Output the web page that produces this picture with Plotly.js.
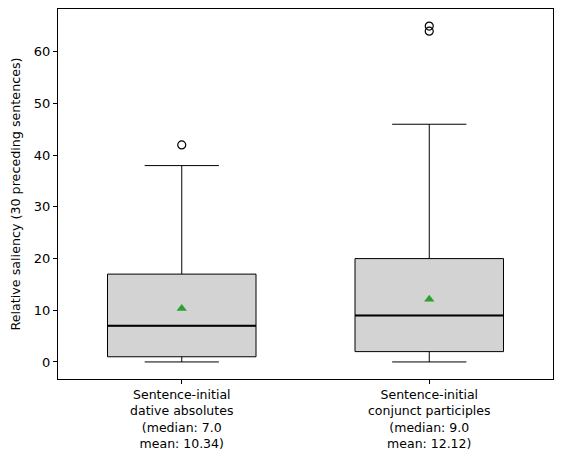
<!DOCTYPE html>
<html>
<head>
<meta charset="utf-8">
<script src="https://cdn.plot.ly/plotly-3.0.1.min.js"></script>
<style>
  body { margin: 0; background: #fff; }
  #chart { width: 562px; height: 461px; }
</style>
</head>
<body>
<div id="chart"></div>
<script>
// box statistics
const positions = [1, 2];
const tickLabels = [
    'Sentence-initial<br>dative absolutes<br>(median: 7.0<br>mean: 10.34)',
    'Sentence-initial<br>conjunct participles<br>(median: 9.0<br>mean: 12.12)'
];
const q1 = [1, 2];
const medians = [7, 9];
const q3 = [17, 20];
const lowerWhisker = [0, 0];
const upperWhisker = [38, 46];
const means = [10.34, 12.12];
const outlierX = [1, 2, 2];
const outlierY = [42, 64, 65];

const boxWidth = 0.6;

const boxTrace = {
    type: 'box',
    x: positions,
    q1: q1,
    median: medians,
    q3: q3,
    lowerfence: lowerWhisker,
    upperfence: upperWhisker,
    width: boxWidth,
    whiskerwidth: 0.5,
    fillcolor: '#d3d3d3',
    line: { color: '#000', width: 1 },
    boxpoints: false,
    hoverinfo: 'skip',
    showlegend: false
};

const meanTrace = {
    type: 'scatter',
    mode: 'markers',
    x: positions,
    y: means,
    marker: { symbol: 'triangle-up', size: 9, color: '#2ca02c' },
    showlegend: false
};

const outlierTrace = {
    type: 'scatter',
    mode: 'markers',
    x: outlierX,
    y: outlierY,
    marker: { symbol: 'circle-open', size: 8, color: '#000', line: { width: 1.2 } },
    showlegend: false
};

// median as a thicker black line, like matplotlib draws it
const medianShapes = positions.map((p, i) => ({
    type: 'line',
    xref: 'x', yref: 'y',
    x0: p - boxWidth / 2, x1: p + boxWidth / 2,
    y0: medians[i], y1: medians[i],
    line: { color: '#000', width: 2 }
}));

const layout = {
    width: 562,
    height: 461,
    margin: { l: 58, r: 9, t: 9, b: 82 },
    paper_bgcolor: '#fff',
    plot_bgcolor: '#fff',
    font: { family: 'DejaVu Sans', size: 13, color: '#000' },
    showlegend: false,
    shapes: medianShapes,
    xaxis: {
        range: [0.5, 2.5],
        tickmode: 'array',
        tickvals: positions,
        ticktext: tickLabels,
        ticks: 'outside',
        ticklen: 4,
        tickcolor: '#000',
        showgrid: false,
        zeroline: false,
        showline: true,
        linecolor: '#000',
        linewidth: 1,
        mirror: true,
        tickfont: { size: 12.5 }
    },
    yaxis: {
        range: [-3.3, 68.3],
        tickmode: 'array',
        tickvals: [0, 10, 20, 30, 40, 50, 60],
        ticks: 'outside',
        ticklen: 4,
        tickcolor: '#000',
        showgrid: false,
        zeroline: false,
        showline: true,
        linecolor: '#000',
        linewidth: 1,
        mirror: true,
        tickfont: { size: 13 },
        title: { text: 'Relative saliency (30 preceding sentences)', font: { size: 12.7 }, standoff: 10 }
    }
};

Plotly.newPlot('chart', [boxTrace, meanTrace, outlierTrace], layout, { displayModeBar: false, staticPlot: true });
</script>
</body>
</html>
